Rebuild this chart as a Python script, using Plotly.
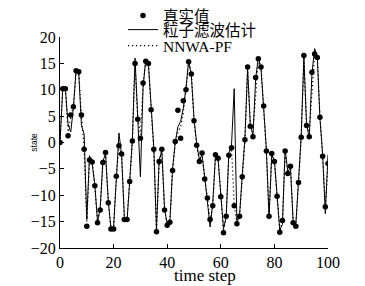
import plotly.graph_objects as go

t = list(range(101))

true_vals = [0.0, 10.2, 10.2, 1.3, 5.2, 6.8, 13.6, 13.4, 5.2, -1.3,
             -15.9, -3.3, -3.7, -8.2, -15.2, -12.8, -3.8, -1.9, -11.4, -16.4,
             -16.4, -6.4, -0.6, -2.2, -14.6, -14.6, -7.4, 0.3, 15.0, 4.4,
             0.8, 11.3, 15.4, 15.0, 6.2, -1.3, -16.9, -3.6, -1.3, -12.8,
             -15.7, -15.1, -5.3, 0.2, 6.1, 0.8, 7.9, 10.0, 15.3, 13.0,
             4.1, -0.5, -3.6, -2.0, -6.9, -10.5, -14.6, -12.0, -2.3, -3.0,
             -10.3, -17.1, -14.0, -2.4, -1.0, -12.0, -15.4, -14.0, -6.5, 0.5,
             14.3, 3.1, 1.1, 12.3, 15.9, 14.3, 6.9, -1.6, -14.0, -2.1,
             -3.6, -10.2, -17.0, -14.8, -1.6, -5.9, -4.5, -15.2, -15.9, -7.6,
             1.0, 16.5, 3.2, 1.1, 13.3, 16.8, 16.1, 4.8, -2.6, -12.2, -4.0]

pf_vals = [0.0, 10.0, 10.3, 3.5, 2.0, 6.5, 13.8, 13.2, 3.2, 1.6,
           -14.6, -2.5, -4.0, -8.0, -15.0, -12.5, -3.5, -2.2, -11.0, -16.2,
           -16.0, -6.0, 1.8, -2.5, -14.0, -15.0, -7.0, 0.5, 16.0, 5.0,
           -6.5, 10.5, 15.8, 14.8, 6.0, -1.0, -16.5, -3.3, -1.6, -12.5,
           -15.5, -15.0, -5.0, 0.0, 3.0, 4.0, 6.5, 10.2, 15.5, 12.8,
           4.5, -0.2, -3.2, -2.4, -6.5, -10.8, -16.0, -11.5, -2.6, -3.3,
           -10.0, -16.3, -14.2, -2.0, -0.5, 10.2, -15.0, -13.8, -6.2, 0.8,
           14.0, 3.5, 1.3, 12.0, 16.2, 14.0, 6.5, -1.3, -14.2, -2.4,
           -3.3, -10.5, -16.6, -15.5, -1.3, -5.5, -4.8, -15.0, -15.5, -7.3,
           1.3, 16.0, 3.5, 0.8, 13.0, 17.8, 16.3, 4.5, -2.2, -13.5, -2.3]

nn_vals = [0.0, 10.1, 10.1, 2.0, 4.8, 6.9, 13.4, 13.3, 5.0, -1.0,
           -15.0, -4.0, -3.5, -8.4, -15.0, -12.6, -4.0, -2.0, -11.2, -16.2,
           -16.3, -6.6, -0.8, -2.0, -14.4, -14.5, -7.6, 0.1, 14.8, 5.0,
           1.5, 11.0, 15.2, 14.9, 6.4, -1.5, -16.7, -3.8, -1.4, -12.6,
           -15.6, -15.2, -5.5, 0.0, 2.0, 3.0, 5.5, 9.8, 15.1, 13.2,
           4.3, -0.6, -3.4, -2.2, -7.0, -10.3, -14.8, -12.2, -2.5, -2.8,
           -10.1, -16.9, -14.1, -2.6, -1.2, -11.8, -15.2, -14.1, -6.7, 0.3,
           14.1, 3.3, 2.0, 9.0, 15.7, 14.4, 7.1, -1.8, -13.8, -2.3,
           -3.8, -10.0, -16.8, -14.9, -1.8, -5.7, -4.6, -15.0, -15.7, -7.8,
           0.8, 16.3, 3.4, 2.0, 8.5, 16.6, 16.0, 5.0, -2.4, -12.0, -4.2]

x_ticks = [0, 20, 40, 60, 80, 100]
y_ticks = [-20, -15, -10, -5, 0, 5, 10, 15, 20]

SERIF = "Liberation Serif, Times New Roman, Noto Sans CJK SC, serif"

fig = go.Figure()
fig.add_trace(go.Scatter(x=t, y=pf_vals, mode="lines", name="粒子滤波估计",
                         line=dict(color="black", width=1), legend="legend2"))
fig.add_trace(go.Scatter(x=t, y=nn_vals, mode="lines", name="NNWA-PF",
                         line=dict(color="black", width=1.2, dash="1.2px,2.8px"), legend="legend3"))
fig.add_trace(go.Scatter(x=t, y=true_vals, mode="markers", name="真实值",
                         marker=dict(color="black", size=5.5), legend="legend"))

leg_common = dict(xanchor="left", yanchor="middle", bgcolor="rgba(0,0,0,0)",
                  borderwidth=0, font=dict(family=SERIF, size=15.5, color="black"))

fig.update_layout(
    width=357, height=278,
    margin=dict(l=52, r=37, t=29, b=38, autoexpand=False),
    paper_bgcolor="white", plot_bgcolor="white",
    showlegend=True,
    legend=dict(x=0.235, y=1.10, **leg_common),
    legend2=dict(x=0.235, y=1.033, **leg_common),
    legend3=dict(x=0.235, y=0.957, **leg_common),
    xaxis=dict(range=[0, 100], tickvals=x_ticks, ticks="inside", ticklen=4,
               tickcolor="black", showline=True, linecolor="black", linewidth=1,
               showgrid=False, zeroline=False, automargin=False,
               tickfont=dict(family=SERIF, size=16, color="black")),
    yaxis=dict(range=[-20, 20], tickvals=y_ticks, ticks="inside", ticklen=4,
               tickcolor="black", showline=True, linecolor="black", linewidth=1,
               showgrid=False, zeroline=False, automargin=False,
               tickfont=dict(family=SERIF, size=16, color="black")),
    annotations=[
        dict(text="time step", xref="paper", yref="paper", x=0.541, y=-0.128,
             xanchor="center", yanchor="middle", showarrow=False,
             font=dict(family=SERIF, size=17, color="black")),
        dict(text="state", xref="paper", yref="paper", x=-0.10, y=0.5,
             xanchor="center", yanchor="middle", showarrow=False, textangle=-90,
             font=dict(family="Liberation Sans, Arial, sans-serif", size=8.5, color="black")),
    ],
)

fig.write_html("out.html")
